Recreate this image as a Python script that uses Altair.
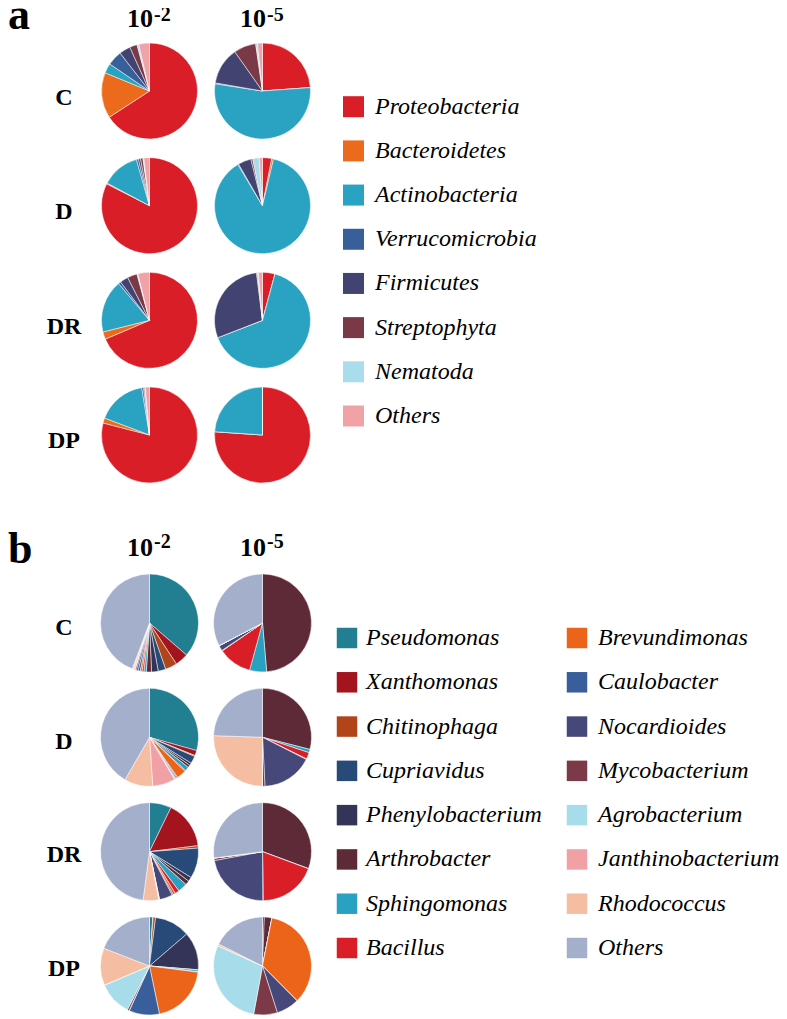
import math
import altair as alt
import pandas as pd

rows = ["C", "D", "DR", "DP"]
exp_labels = ["-2", "-5"]
base_label = "10"
panel_letters = ["a", "b"]

phyla = ["Proteobacteria", "Bacteroidetes", "Actinobacteria", "Verrucomicrobia",
         "Firmicutes", "Streptophyta", "Nematoda", "Others"]
phyla_colors = ["#DA1E28", "#EB6A1C", "#2AA3C2", "#375F9A",
                "#424370", "#7A3947", "#A9DDEB", "#F1A2A7"]

genera = ["Pseudomonas", "Xanthomonas", "Chitinophaga", "Cupriavidus",
          "Phenylobacterium", "Arthrobacter", "Sphingomonas", "Bacillus",
          "Brevundimonas", "Caulobacter", "Nocardioides", "Mycobacterium",
          "Agrobacterium", "Janthinobacterium", "Rhodococcus", "Others"]
genera_colors = ["#217F91", "#A3141F", "#B2441A", "#284A78",
                 "#333457", "#5F2A37", "#29A2C2", "#DA1E28",
                 "#EB6419", "#385F9B", "#454878", "#7C3947",
                 "#A7DCEA", "#F1A1A6", "#F5BEA2", "#A4AFCB"]

# panel a: relative abundance (%) of phyla, dilution 10^-2 and 10^-5
a_C_2 = [65.8, 15.4, 3.3, 5.0, 3.8, 2.5, 0.6, 3.6]
a_C_5 = [23.9, 0.0, 53.6, 0.3, 12.5, 7.5, 0.6, 1.7]
a_D_2 = [82.5, 0.3, 12.8, 0.7, 0.7, 0.8, 0.3, 1.9]
a_D_5 = [3.1, 0.6, 87.8, 0.3, 4.4, 0.6, 2.2, 1.1]
a_DR_2 = [68.6, 2.5, 17.8, 0.8, 2.8, 3.3, 0.3, 3.9]
a_DR_5 = [4.2, 0.0, 65.0, 0.0, 28.9, 0.3, 0.3, 1.4]
a_DP_2 = [79.2, 1.7, 16.7, 0.6, 0.3, 0.3, 0.0, 1.4]
a_DP_5 = [76.1, 0.0, 23.9, 0.0, 0.0, 0.0, 0.0, 0.0]

# panel b: relative abundance (%) of genera
b_C_2 = [36.4, 4.4, 3.9, 2.5, 2.2, 1.7, 0.8, 0.6, 0.6, 0.7, 0.6, 0.4, 0.3, 0.4, 0.3, 44.3]
b_C_5 = [0.0, 0.0, 0.0, 0.0, 0.0, 48.6, 5.6, 11.1, 0.1, 0.1, 1.7, 0.1, 0.0, 0.0, 0.0, 32.6]
b_D_2 = [29.4, 1.7, 0.3, 2.5, 0.8, 0.8, 1.4, 0.3, 3.1, 0.3, 0.3, 0.3, 0.3, 7.5, 9.4, 41.7]
b_D_5 = [0.0, 0.0, 0.0, 0.0, 0.0, 28.9, 1.1, 2.2, 0.1, 0.1, 16.7, 0.8, 0.0, 0.1, 25.4, 24.4]
b_DR_2 = [7.2, 15.8, 0.8, 10.0, 1.4, 1.4, 3.1, 1.4, 0.8, 0.4, 4.3, 0.1, 0.1, 0.1, 5.1, 47.8]
b_DR_5 = [0.0, 0.0, 0.0, 0.0, 0.0, 30.6, 0.1, 19.2, 0.0, 0.0, 22.2, 0.8, 0.0, 0.0, 0.0, 27.1]
b_DP_2 = [1.1, 0.1, 0.8, 11.7, 12.5, 0.1, 0.6, 0.1, 19.7, 10.0, 0.1, 0.6, 11.1, 0.1, 12.2, 19.1]
b_DP_5 = [0.0, 0.0, 0.0, 0.0, 0.6, 2.5, 0.0, 0.0, 34.4, 0.1, 7.5, 7.8, 28.9, 0.0, 0.6, 17.6]

a_sets = [[a_C_2, a_C_5], [a_D_2, a_D_5], [a_DR_2, a_DR_5], [a_DP_2, a_DP_5]]
b_sets = [[b_C_2, b_C_5], [b_D_2, b_D_5], [b_DR_2, b_DR_5], [b_DP_2, b_DP_5]]


def pie_table(sets, cats):
    recs = []
    for r_i, pair in enumerate(sets):
        for c_i, vals in enumerate(pair):
            for k, (cat, v) in enumerate(zip(cats, vals)):
                recs.append({"row": r_i, "col": c_i, "cat": cat, "ord": k, "value": v})
    return pd.DataFrame(recs)


def lin(domain, rng):
    return alt.Scale(domain=domain, range=rng, nice=False, zero=False)


SERIF = "Liberation Serif"


def pie_layer(df, cats, colors, yrange, radius):
    return alt.Chart(df).transform_stack(
        stack="value", groupby=["row", "col"], as_=["t0", "t1"], offset="normalize",
        sort=[alt.SortField("ord", order="ascending")],
    ).mark_arc(radius=radius, stroke="white", strokeWidth=0.5).encode(
        x=alt.X("col:Q", scale=lin([0, 1], [141.5, 254.5]), axis=None),
        y=alt.Y("row:Q", scale=lin([0, 3], yrange), axis=None),
        theta=alt.Theta("t0:Q", scale=alt.Scale(domain=[0, 1], range=[0, 2 * math.pi])),
        theta2=alt.Theta2("t1"),
        color=alt.Color("cat:N", scale=alt.Scale(domain=cats, range=colors), legend=None),
    )


pie_a = pie_layer(pie_table(a_sets, phyla), phyla, phyla_colors, [83, 427], 48)
pie_b = pie_layer(pie_table(b_sets, genera), genera, genera_colors, [615, 958], 49)

# legend a
leg_a_df = pd.DataFrame({"cat": phyla, "idx": list(range(len(phyla)))})
leg_a_sq = alt.Chart(leg_a_df).mark_square(size=441, opacity=1).encode(
    x=alt.value(345.5),
    y=alt.Y("idx:Q", scale=lin([0, 7], [98.7, 408]), axis=None),
    color=alt.Color("cat:N", scale=alt.Scale(domain=phyla, range=phyla_colors), legend=None),
)
leg_a_tx = alt.Chart(leg_a_df).mark_text(
    align="left", baseline="middle", font=SERIF, fontSize=24, fontStyle="italic", color="black"
).encode(
    x=alt.value(367),
    y=alt.Y("idx:Q", scale=lin([0, 7], [98.7, 408]), axis=None),
    text="cat:N",
)

# legend b (two columns)
leg_b_df = pd.DataFrame({"cat": genera,
                         "c": [i // 8 for i in range(len(genera))],
                         "r": [i % 8 for i in range(len(genera))]})
leg_b_sq = alt.Chart(leg_b_df).mark_square(size=420, opacity=1).encode(
    x=alt.X("c:Q", scale=lin([0, 1], [339, 569]), axis=None),
    y=alt.Y("r:Q", scale=lin([0, 7], [630, 940]), axis=None),
    color=alt.Color("cat:N", scale=alt.Scale(domain=genera, range=genera_colors), legend=None),
)
leg_b_tx = alt.Chart(leg_b_df).mark_text(
    align="left", baseline="middle", font=SERIF, fontSize=24, fontStyle="italic", color="black"
).encode(
    x=alt.X("c:Q", scale=lin([0, 1], [358, 590]), axis=None),
    y=alt.Y("r:Q", scale=lin([0, 7], [630, 940]), axis=None),
    text="cat:N",
)

# row labels
row_df = pd.DataFrame({"lab": rows, "row": list(range(4))})
row_a = alt.Chart(row_df).mark_text(
    align="center", baseline="middle", font=SERIF, fontSize=24, fontWeight="bold", color="black"
).encode(
    x=alt.value(56),
    y=alt.Y("row:Q", scale=lin([0, 3], [90, 433]), axis=None),
    text="lab:N",
)
row_b = alt.Chart(row_df).mark_text(
    align="center", baseline="middle", font=SERIF, fontSize=24, fontWeight="bold", color="black"
).encode(
    x=alt.value(56),
    y=alt.Y("row:Q", scale=lin([0, 3], [620, 961]), axis=None),
    text="lab:N",
)

# column headers 10^-2, 10^-5 for both panels
head_df = pd.DataFrame({
    "panel": [0, 0, 1, 1],
    "col": [0, 1, 0, 1],
    "base": [base_label] * 4,
    "exp": [exp_labels[0], exp_labels[1], exp_labels[0], exp_labels[1]],
})
head_base = alt.Chart(head_df).mark_text(
    align="right", baseline="alphabetic", font=SERIF, fontSize=26, fontWeight="bold", color="black"
).encode(
    x=alt.X("col:Q", scale=lin([0, 1], [145, 258]), axis=None),
    y=alt.Y("panel:Q", scale=lin([0, 1], [19, 548]), axis=None),
    text="base:N",
)
head_exp = alt.Chart(head_df).mark_text(
    align="left", baseline="alphabetic", font=SERIF, fontSize=20, fontWeight="bold", color="black"
).encode(
    x=alt.X("col:Q", scale=lin([0, 1], [146, 259]), axis=None),
    y=alt.Y("panel:Q", scale=lin([0, 1], [13, 540]), axis=None),
    text="exp:N",
)

# panel letters
letter_df = pd.DataFrame({"t": panel_letters, "p": [0, 1]})
letters = alt.Chart(letter_df).mark_text(
    align="left", baseline="alphabetic", font=SERIF, fontSize=44, fontWeight="bold", color="black"
).encode(
    x=alt.value(0),
    y=alt.Y("p:Q", scale=lin([0, 1], [21, 555]), axis=None),
    text="t:N",
)

chart = alt.layer(
    pie_a, pie_b, leg_a_sq, leg_a_tx, leg_b_sq, leg_b_tx,
    row_a, row_b, head_base, head_exp, letters,
).resolve_scale(
    x="independent", y="independent", color="independent", theta="independent"
).properties(
    width=771, height=1011, padding=0, autosize=alt.AutoSizeParams(type="none")
).configure_view(stroke=None)

chart.save("out.html", embed_options={"renderer": "svg", "actions": False})
